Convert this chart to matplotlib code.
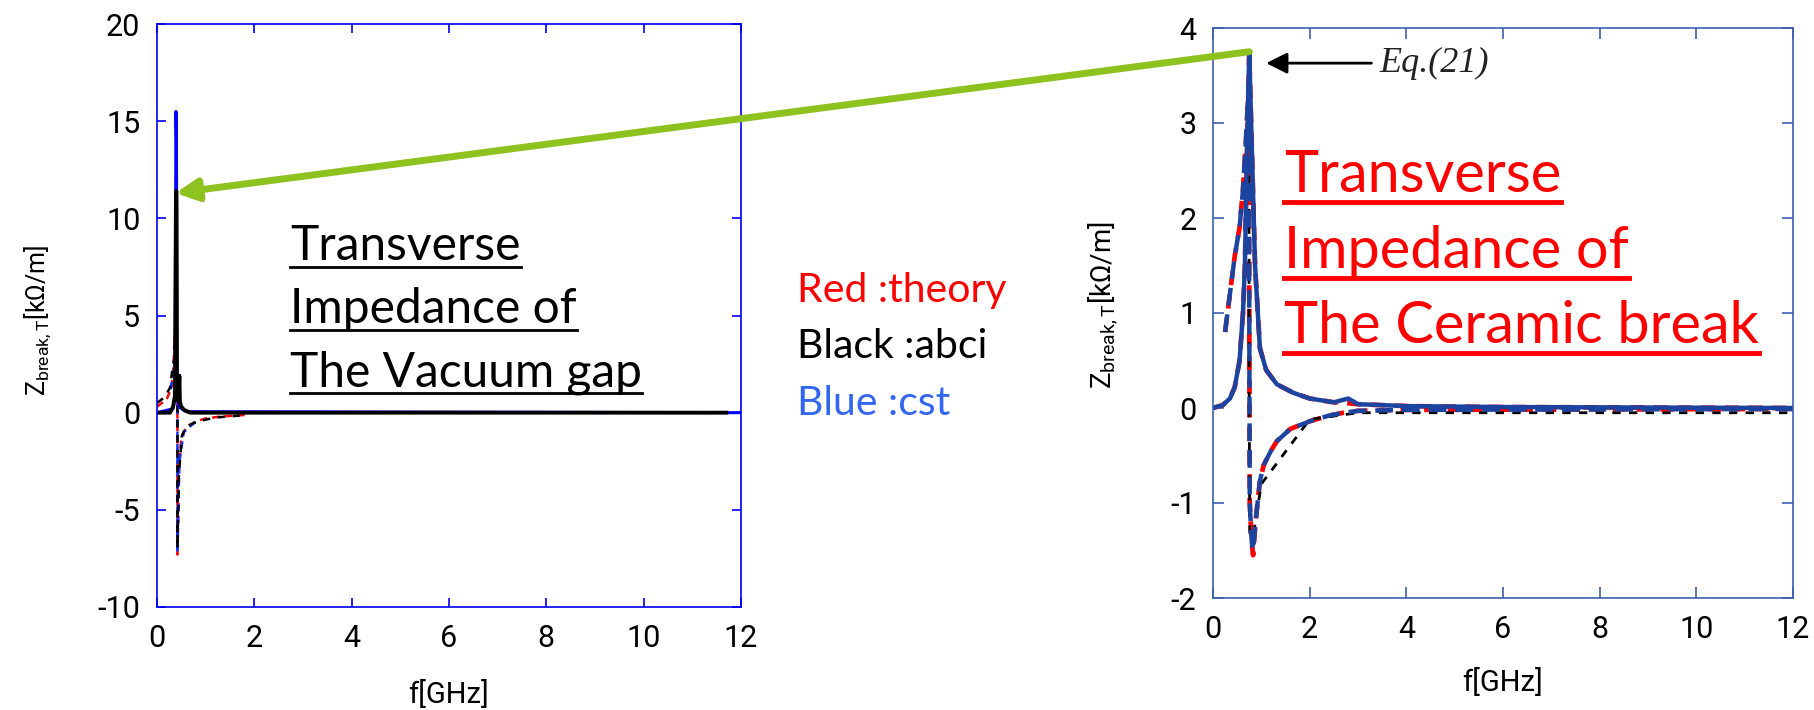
import matplotlib
matplotlib.use("Agg")
import matplotlib.pyplot as plt
import matplotlib.patheffects as pe
from matplotlib import font_manager
from matplotlib.patches import ConnectionPatch
from matplotlib.lines import Line2D

# ---- vacuum gap (left panel), f in GHz, Z in kOhm/m ----
gap_f_real_abci = [0.0, 0.27, 0.33, 0.37, 0.39, 0.40, 0.41, 0.44, 0.46, 0.47, 0.49, 0.55, 0.68, 1.0, 11.7]
gap_real_abci = [0.0, 0.0, 0.3, 0.9, 11.4, 11.4, 1.0, 0.6, 1.9, 0.6, 0.35, 0.15, 0.0, 0.0, 0.0]
gap_f_real_cst = [0.0, 0.33, 0.37, 0.39, 0.40, 0.41, 0.45, 0.6, 12.0]
gap_real_cst = [0.0, 0.2, 0.8, 15.5, 14.0, 0.8, 0.3, 0.05, 0.0]
gap_f_imag_theory = [0.0, 0.2, 0.3, 0.34, 0.36, 0.40, 0.42, 0.42, 0.45, 0.5, 0.6, 0.8, 1.0, 1.3, 1.8]
gap_imag_theory = [0.3, 0.7, 1.3, 2.4, 3.9, 2.0, 0.5, -7.3, -3.0, -1.3, -0.75, -0.45, -0.3, -0.2, -0.12]
gap_f_imag_abci = [0.0, 0.16, 0.27, 0.33, 0.38, 0.41, 0.42, 0.42, 0.45, 0.51, 0.6, 0.84, 1.2, 1.7]
gap_imag_abci = [0.5, 0.8, 1.3, 2.5, 3.0, 1.0, 0.3, -7.0, -3.2, -1.2, -0.7, -0.45, -0.25, -0.15]
gap_f_imag_cst = [0.28, 0.33, 0.38, 0.41, 0.42, 0.42, 0.46, 0.55, 0.8]
gap_imag_cst = [1.2, 2.0, 3.0, 1.0, 0.2, -7.2, -2.5, -1.0, -0.45]

# ---- ceramic break (right panel) ----
cb_f_real = [0.0, 0.2, 0.35, 0.45, 0.55, 0.62, 0.66, 0.70, 0.75, 0.80, 0.87, 0.97, 1.1, 1.32, 1.66,
             2.0, 2.5, 2.8, 3.0, 4.0, 6.0, 12.0]
cb_real_theory = [0.0, 0.03, 0.1, 0.22, 0.5, 1.0, 1.5, 2.6, 3.75, 2.8, 1.5, 0.63, 0.4, 0.25, 0.16,
                  0.1, 0.06, 0.05, 0.04, 0.02, 0.01, 0.0]
cb_real_cst = [0.0, 0.03, 0.1, 0.22, 0.5, 1.0, 1.5, 2.6, 3.75, 2.8, 1.5, 0.63, 0.4, 0.25, 0.16,
               0.1, 0.06, 0.1, 0.04, 0.02, 0.01, 0.0]
cb_f_imag = [0.25, 0.35, 0.45, 0.55, 0.62, 0.68, 0.74, 0.76, 0.80, 0.83, 0.88, 0.97, 1.05,
             1.2, 1.32, 1.6, 2.0, 2.4, 2.7, 3.0, 4.0, 12.0]
cb_imag_theory = [0.8, 1.2, 1.6, 1.9, 2.3, 2.8, 3.4, -1.0, -1.4, -1.55, -1.2, -0.77, -0.6,
                  -0.45, -0.35, -0.22, -0.14, -0.08, -0.05, -0.03, -0.02, -0.01]
cb_imag_cst = [0.8, 1.2, 1.6, 1.9, 2.3, 2.8, 3.4, -1.0, -1.4, -1.5, -1.2, -0.77, -0.6,
               -0.45, -0.35, -0.22, -0.14, -0.08, -0.05, -0.03, -0.02, -0.01]
cb_f_abci = [0.74, 0.75, 0.76, 0.8, 1.0, 2.0, 3.0, 12.0]
cb_imag_abci = [3.5, 0.0, -1.3, -1.45, -0.8, -0.12, -0.05, -0.05]

plt.rcParams["axes.unicode_minus"] = False

installed = {f.name for f in font_manager.fontManager.ttflist}
tick_font = [n for n in ["Liberation Sans Narrow", "Roboto"] if n in installed] + ["DejaVu Sans"]
ui_font = ["Lato", "DejaVu Sans"]

W, H = 1814, 710
fig = plt.figure(figsize=(W / 100, H / 100), dpi=100)


def px(x, y):
    return x / W, 1 - y / H


def style_axes(ax, spine_color, ylim, yticks, tlen):
    ax.set_xlim(0, 12)
    ax.set_ylim(*ylim)
    ax.set_xticks(range(0, 13, 2))
    ax.set_yticks(yticks)
    for s in ax.spines.values():
        s.set_color(spine_color)
        s.set_linewidth(1.2)
    ax.tick_params(direction="in", top=True, right=True, length=tlen, width=1.2,
                   color=spine_color, labelsize=22, pad=12)
    for lab in ax.get_xticklabels() + ax.get_yticklabels():
        lab.set_family(tick_font)


# left panel
ax1 = fig.add_axes([157 / W, 1 - 607 / H, 584 / W, 583 / H])
ax1.plot(gap_f_imag_theory, gap_imag_theory, color="red", ls=(0, (3, 2)), lw=1.8)
ax1.plot(gap_f_imag_cst, gap_imag_cst, color="#1030ff", ls=(0, (3, 2)), lw=1.8)
ax1.plot(gap_f_imag_abci, gap_imag_abci, color="black", ls=(0, (3, 3)), lw=1.8)
ax1.plot(gap_f_real_cst, gap_real_cst, color="#0000ff", lw=2.2)
ax1.plot(gap_f_real_abci, gap_real_abci, color="black", lw=2.8)
style_axes(ax1, "#0000ee", (-10, 20), range(-10, 21, 5), 6.5)

# right panel
ax2 = fig.add_axes([1213 / W, 1 - 598 / H, 580 / W, 570 / H])
ax2.plot(cb_f_real, cb_real_theory, color="red", ls=(0, (3, 2)), lw=3.4)
ax2.plot(cb_f_imag, cb_imag_theory, color="red", ls=(0, (3, 2)), lw=3.4)
ax2.plot(cb_f_abci, cb_imag_abci, color="black", ls=(0, (3, 3)), lw=2.0)
ax2.plot(cb_f_real, cb_real_cst, color="#1b44a0", lw=3.2)
ax2.plot(cb_f_imag, cb_imag_cst, color="#1b44a0", ls=(0, (4, 2)), lw=3.2)
style_axes(ax2, "#3c60b0", (-2, 4), range(-2, 5), 8)

ylab = r"$\mathregular{Z_{break,T}[k\Omega/m]}$"
fig.text(*px(38, 320), ylab, rotation=90, ha="center", va="center", fontsize=18,
         family=tick_font)
fig.text(*px(1103, 305), ylab, rotation=90, ha="center", va="center", fontsize=20,
         family=tick_font)
fig.text(*px(449, 694), "f[GHz]", ha="center", va="center", fontsize=21, family=tick_font)
fig.text(*px(1503, 683), "f[GHz]", ha="center", va="center", fontsize=21, family=tick_font)

# green link between the two resonance peaks
link = ConnectionPatch(xyA=(0.75, 3.75), coordsA=ax2.transData,
                       xyB=(0.38, 11.3), coordsB=ax1.transData,
                       arrowstyle="-|>", mutation_scale=32, lw=5, color="#8dc21f")
link.set_path_effects([pe.SimplePatchShadow(offset=(2, -3), alpha=0.3), pe.Normal()])
fig.add_artist(link)

ax2.annotate("Eq.(21)", xy=(1.1, 3.63), xytext=(3.45, 3.63), textcoords="data",
             ha="left", va="center", fontsize=26, style="italic",
             family=["Liberation Serif", "DejaVu Serif"], color="#222222",
             arrowprops=dict(arrowstyle="-|>", color="black", lw=2,
                             mutation_scale=32, shrinkA=4, shrinkB=0))

fig.canvas.draw()
renderer = fig.canvas.get_renderer()


def underlined(x, base, s, color, size, gap, lw):
    t = fig.text(*px(x, base), s, ha="left", va="baseline", fontsize=size,
                 color=color, family=ui_font)
    bb = t.get_window_extent(renderer)
    y = (H - base - gap) / H
    fig.add_artist(Line2D([bb.x0 / W, bb.x1 / W], [y, y], color=color, lw=lw))


for i, line in enumerate(["Transverse", "Impedance of", "The Vacuum gap"]):
    underlined(290, 260 + 63 * i, line, "black", 34.5, 7, 2.0)

for i, line in enumerate(["Transverse", "Impedance of", "The Ceramic break"]):
    underlined(1284, 192 + 75.5 * i, line, "#ff0000", 41.5, 10, 3.5)

legend_rows = [("Red :theory", "#ff0000"), ("Black :abci", "black"), ("Blue :cst", "#3366f0")]
for i, (s, c) in enumerate(legend_rows):
    fig.text(*px(797, 302 + 56.5 * i), s, ha="left", va="baseline", fontsize=29.5,
             color=c, family=ui_font)

fig.savefig("out.png", dpi=100)
